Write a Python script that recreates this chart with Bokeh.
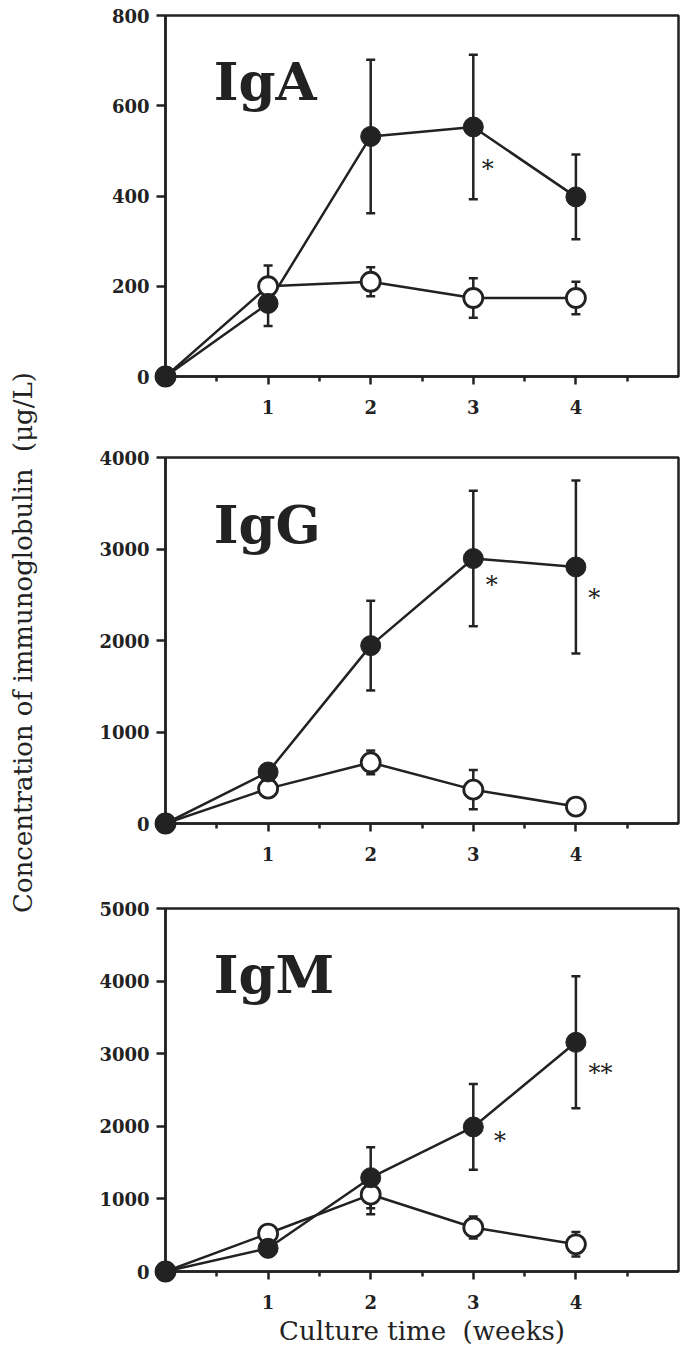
import math
from bokeh.plotting import figure
from bokeh.models import Range1d, FixedTicker, Whisker, ColumnDataSource, TeeHead
from bokeh.layouts import column, row
from bokeh.embed import file_html
from bokeh.resources import INLINE
from bokeh.core.properties import value

# ---------------- data ----------------
weeks = [0, 1, 2, 3, 4]
x_ticks = [1, 2, 3, 4]
x_minor_ticks = [0.5, 1.5, 2.5, 3.5, 4.5]

# IgA (ug/L)
iga_filled = [0, 162, 532, 553, 398]
iga_filled_err = [0, 50, 170, 160, 94]
iga_open = [0, 200, 210, 174, 174]
iga_open_err = [0, 46, 32, 44, 36]
iga_ticks = [0, 200, 400, 600, 800]
iga_sig_x = [3.14]
iga_sig_y = [472]
iga_sig_text = ["*"]

# IgG (ug/L)
igg_filled = [0, 563, 1944, 2896, 2804]
igg_filled_err = [0, 60, 490, 740, 945]
igg_open = [0, 381, 667, 370, 185]
igg_open_err = [0, 40, 130, 215, 40]
igg_ticks = [0, 1000, 2000, 3000, 4000]
igg_sig_x = [3.18, 4.18]
igg_sig_y = [2656, 2518]
igg_sig_text = ["*", "*"]

# IgM (ug/L)
igm_filled = [0, 319, 1292, 1991, 3157]
igm_filled_err = [0, 80, 420, 590, 910]
igm_open = [0, 523, 1060, 606, 375]
igm_open_err = [0, 90, 270, 150, 170]
igm_ticks = [0, 1000, 2000, 3000, 4000, 5000]
igm_sig_x = [3.26, 4.24]
igm_sig_y = [1873, 2803]
igm_sig_text = ["*", "**"]

y_title = "Concentration of immunoglobulin\u00a0\u00a0(\u03bcg/L)"
x_title = "Culture time\u00a0\u00a0(weeks)"

FONT = "DejaVu Serif"
INK = "#222222"
LW = 2.5


def add_errorbars(p, xs, mean, err):
    src = ColumnDataSource(dict(
        x=xs,
        upper=[m + e for m, e in zip(mean, err)],
        lower=[m - e for m, e in zip(mean, err)],
    ))
    w = Whisker(source=src, base="x", upper="upper", lower="lower",
                dimension="height", line_color=INK, line_width=LW,
                upper_head=TeeHead(size=9, line_color=INK, line_width=LW),
                lower_head=TeeHead(size=9, line_color=INK, line_width=LW),
                level="underlay")
    p.add_layout(w)


def make_panel(name, filled, filled_err, open_, open_err, ticks,
               sig_x, sig_y, sig_text, label_y,
               height, top, bottom, xlabel=None):
    p = figure(width=640, height=height,
               x_range=Range1d(0, 5), y_range=Range1d(0, ticks[-1]),
               output_backend="svg", toolbar_location=None,
               min_border_left=120, min_border_right=7,
               min_border_top=top, min_border_bottom=bottom)
    p.outline_line_color = INK
    p.outline_line_width = LW
    p.grid.visible = False
    p.background_fill_color = "white"
    p.border_fill_color = "white"

    p.xaxis.ticker = FixedTicker(ticks=x_ticks, minor_ticks=x_minor_ticks)
    p.yaxis.ticker = FixedTicker(ticks=ticks)
    for ax in (p.xaxis, p.yaxis):
        ax.axis_line_color = INK
        ax.axis_line_width = LW
        ax.major_tick_line_color = INK
        ax.major_tick_line_width = LW
        ax.minor_tick_line_color = INK
        ax.minor_tick_line_width = LW
        ax.major_tick_in = 0
        ax.minor_tick_in = 0
        ax.major_label_text_font = FONT
        ax.major_label_text_font_size = "18px"
        ax.major_label_text_font_style = "bold"
        ax.major_label_text_color = INK
        ax.axis_label_text_font = FONT
        ax.axis_label_text_font_style = "normal"
        ax.axis_label_text_font_size = "26px"
        ax.axis_label_text_color = INK
    p.xaxis.major_tick_out = 8
    p.xaxis.minor_tick_out = 5
    p.yaxis.major_tick_out = 9
    p.yaxis.minor_tick_out = 0
    p.yaxis.minor_tick_line_color = None
    p.yaxis.major_label_standoff = 7
    p.xaxis.major_label_standoff = 15

    if xlabel:
        p.xaxis.axis_label = xlabel
        p.xaxis.axis_label_standoff = 4

    add_errorbars(p, weeks, open_, open_err)
    add_errorbars(p, weeks, filled, filled_err)

    p.line(weeks, open_, line_color=INK, line_width=LW)
    p.line(weeks, filled, line_color=INK, line_width=LW)
    p.scatter(weeks, open_, size=19, fill_color="white", line_color=INK,
              line_width=2.8, level="overlay")
    p.scatter(weeks, filled, size=20, fill_color=INK, line_color=INK,
              line_width=1, level="overlay")

    p.text(x=[0.47], y=[label_y], text=[name], text_font=value(FONT),
           text_font_style="bold", text_font_size="53px",
           text_align="left", text_baseline="alphabetic", text_color=INK)
    p.text(x=sig_x, y=sig_y, text=sig_text, text_font=value(FONT),
           text_font_size="24px", text_align="center",
           text_baseline="middle", text_color=INK, y_offset=5)
    return p


p1 = make_panel("IgA", iga_filled, iga_filled_err, iga_open, iga_open_err,
                iga_ticks, iga_sig_x, iga_sig_y, iga_sig_text, 654,
                height=448, top=15, bottom=72)
p2 = make_panel("IgG", igg_filled, igg_filled_err, igg_open, igg_open_err,
                igg_ticks, igg_sig_x, igg_sig_y, igg_sig_text, 3268,
                height=450, top=9, bottom=75)
p3 = make_panel("IgM", igm_filled, igm_filled_err, igm_open, igm_open_err,
                igm_ticks, igm_sig_x, igm_sig_y, igm_sig_text, 4091,
                height=450, top=10, bottom=77, xlabel=x_title)

# shared y-axis title in a narrow strip on the left
t = figure(width=45, height=1348, x_range=Range1d(0, 45), y_range=Range1d(0, 1348),
           output_backend="svg", toolbar_location=None,
           min_border=0, min_border_left=0, min_border_right=0,
           min_border_top=0, min_border_bottom=0)
t.axis.visible = False
t.grid.visible = False
t.outline_line_color = None
t.text(x=[22], y=[706], text=[y_title], angle=math.pi / 2,
       text_font=value(FONT), text_font_size="26px", text_align="center",
       text_baseline="middle", text_color=INK)

layout = row(t, column(p1, p2, p3, spacing=0), spacing=0)
open("out.html", "w").write(file_html(layout, INLINE))
